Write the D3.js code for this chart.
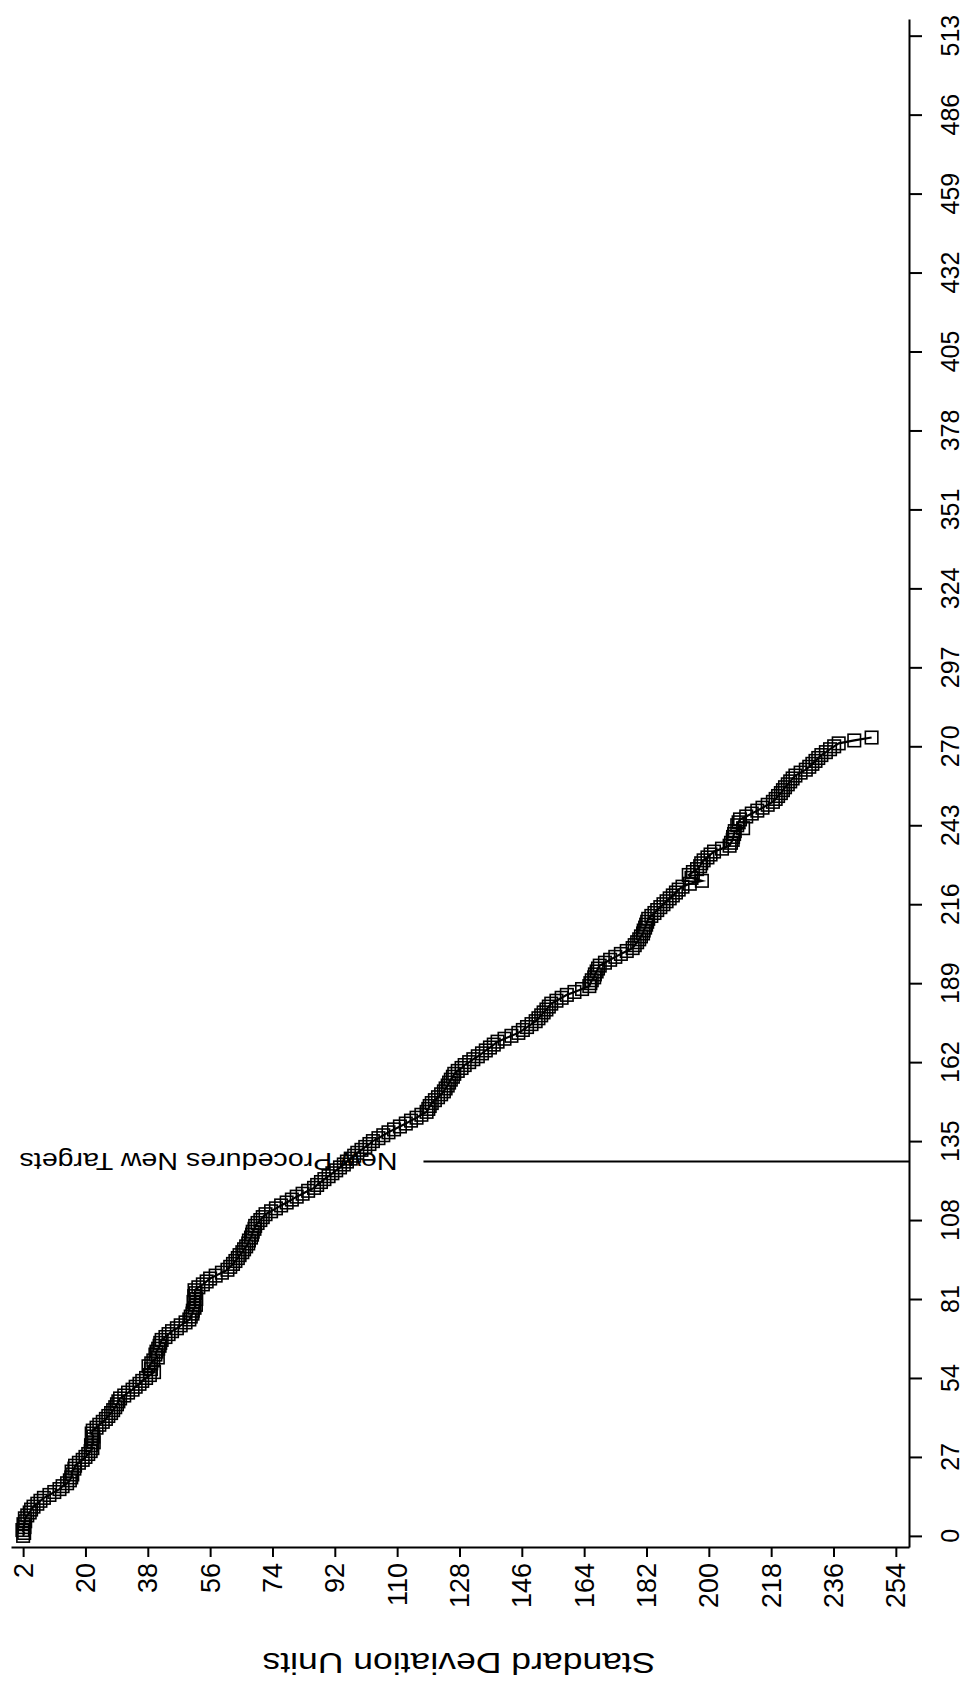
<!DOCTYPE html>
<html>
<head>
<meta charset="utf-8">
<script src="https://d3js.org/d3.v7.min.js"></script>
<style>
  body { margin: 0; background: #fff; }
  text { font-family: "Liberation Sans", Arial, sans-serif; fill: #000; }
</style>
</head>
<body>
<script>
  // cumulative standard deviation units, one value per observation (0..273)
  var sdValues = [
    2.0, 2.3, 1.8, 2.4, 2.1, 2.6, 2.5, 3.2, 3.9, 4.3,
    5.0, 6.1, 7.0, 8.0, 9.6, 11.0, 12.5, 13.4, 14.7, 15.5,
    15.9, 16.2, 16.0, 16.8, 17.0, 18.1, 19.2, 20.0, 20.8, 21.5,
    22.0, 21.6, 22.4, 21.9, 22.3, 21.8, 22.1, 23.2, 24.0, 25.0,
    25.9, 26.6, 27.4, 28.0, 28.6, 29.1, 29.5, 30.0, 31.2, 32.3,
    33.6, 34.5, 35.6, 36.4, 37.5, 38.6, 39.8, 38.9, 38.2, 39.0,
    39.6, 40.9, 40.2, 40.5, 41.0, 41.4, 41.6, 42.0, 43.1, 44.0,
    45.0, 46.4, 47.5, 48.9, 50.0, 50.4, 50.9, 51.0, 51.5, 51.9,
    51.2, 52.0, 51.4, 51.8, 51.5, 52.6, 53.9, 55.0, 56.0, 57.6,
    59.4, 61.0, 61.8, 62.6, 63.3, 64.0, 64.5, 65.3, 65.8, 66.4,
    67.0, 67.2, 67.8, 68.1, 68.3, 68.8, 69.0, 69.7, 70.5, 71.2,
    72.0, 73.6, 75.0, 76.5, 78.1, 79.6, 81.0, 82.7, 84.3, 86.0,
    86.9, 88.0, 89.0, 90.2, 91.3, 92.4, 93.5, 94.6, 95.5, 96.6,
    97.6, 98.5, 99.7, 100.8, 102.0, 103.0, 104.6, 106.0, 107.5, 109.1,
    110.8, 112.5, 114.0, 115.6, 117.0, 118.5, 119.0, 119.4, 120.0, 120.9,
    121.8, 122.7, 123.5, 124.0, 124.6, 125.0, 125.5, 126.1, 126.5, 127.5,
    128.6, 129.5, 130.8, 132.0, 133.3, 134.5, 135.6, 136.8, 137.9, 139.0,
    141.0, 143.0, 145.0, 146.3, 147.5, 148.8, 150.0, 150.8, 151.6, 152.3,
    153.1, 153.8, 154.5, 156.0, 157.5, 159.0, 161.2, 163.4, 165.5, 165.8,
    166.2, 166.9, 167.1, 167.6, 168.0, 168.5, 170.0, 171.5, 173.0, 174.6,
    176.3, 178.0, 178.6, 179.3, 179.9, 180.4, 181.0, 181.2, 181.6, 181.9,
    182.2, 182.5, 183.4, 184.3, 185.1, 186.0, 186.9, 187.8, 188.7, 189.6,
    190.5, 191.3, 192.4, 194.5, 198.0, 195.0, 194.2, 195.4, 196.6, 197.5,
    197.8, 198.5, 199.6, 200.5, 201.5, 203.8, 206.0, 206.4, 206.9, 207.0,
    207.3, 207.5, 209.9, 208.2, 208.6, 209.0, 210.8, 212.4, 214.0, 215.5,
    217.0, 218.5, 219.3, 220.0, 220.8, 221.4, 222.0, 222.8, 223.5, 224.2,
    225.0, 226.5, 228.0, 229.0, 229.9, 230.8, 231.6, 232.5, 233.8, 235.0,
    236.2, 237.5, 242.0, 247.0
  ];

  var sdTicks = [2, 20, 38, 56, 74, 92, 110, 128, 146, 164, 182, 200, 218, 236, 254];
  var obsTicks = [0, 27, 54, 81, 108, 135, 162, 189, 216, 243, 270, 297, 324, 351, 378, 405, 432, 459, 486, 513];

  var refIndex = 128;      // observation where procedures changed
  var refFromSd = 117.6;   // where the reference line starts
  var refLabel = "New Procedures New Targets";
  var axisTitle = "Standard Deviation Units";

  var W = 974, H = 1694;
  var svg = d3.select("body").append("svg")
    .attr("width", W)
    .attr("height", H);

  // standard deviation runs left to right, observation number bottom to top
  var x = d3.scaleLinear().domain([-1.5, 257.8]).range([11, 909]);
  var y = d3.scaleLinear().domain([-3.8, 518.7]).range([1547, 19]);

  var minorSd = d3.range(2, 255, 6);
  var minorObs = d3.range(0, 514, 9);

  // bottom axis (standard deviation units)
  var gx = svg.append("g").attr("transform", "translate(0," + y.range()[0] + ")");
  gx.call(d3.axisBottom(x).tickValues(minorSd).tickSize(5).tickSizeOuter(0).tickFormat(""));
  gx.call(d3.axisBottom(x).tickValues(sdTicks).tickSize(10).tickSizeOuter(0).tickFormat(""));
  gx.selectAll("path, line").attr("stroke", "#000").attr("stroke-width", 2);

  svg.append("g").selectAll("text")
    .data(sdTicks)
    .enter()
    .append("text")
    .attr("transform", function(d){ return "translate(" + x(d) + ",1563) rotate(-90)"; })
    .attr("text-anchor", "end")
    .attr("dy", "0.35em")
    .style("font-size", "27px")
    .text(function(d){ return d; });

  // right axis (observation number)
  var gy = svg.append("g").attr("transform", "translate(" + x.range()[1] + ",0)");
  gy.call(d3.axisRight(y).tickValues(minorObs).tickSize(6).tickSizeOuter(0).tickFormat(""));
  gy.call(d3.axisRight(y).tickValues(obsTicks).tickSize(13).tickSizeOuter(0).tickFormat(""));
  gy.selectAll("path, line").attr("stroke", "#000").attr("stroke-width", 2);

  svg.append("g").selectAll("text")
    .data(obsTicks)
    .enter()
    .append("text")
    .attr("transform", function(d){ return "translate(950," + y(d) + ") rotate(-90)"; })
    .attr("text-anchor", "middle")
    .attr("dy", "0.35em")
    .style("font-size", "25px")
    .text(function(d){ return d; });

  // axis title, upside down
  svg.append("text")
    .attr("transform", "translate(459,1663) rotate(180)")
    .attr("text-anchor", "middle")
    .attr("dy", "0.35em")
    .attr("textLength", 393)
    .attr("lengthAdjust", "spacingAndGlyphs")
    .style("font-size", "30px")
    .text(axisTitle);

  // reference line and its label
  svg.append("line")
    .attr("x1", x(refFromSd))
    .attr("x2", x.range()[1])
    .attr("y1", y(refIndex))
    .attr("y2", y(refIndex))
    .attr("stroke", "#000")
    .attr("stroke-width", 2);

  svg.append("text")
    .attr("transform", "translate(" + (x(refFromSd) - 26) + "," + y(refIndex) + ") rotate(180)")
    .attr("text-anchor", "start")
    .attr("dy", "0.35em")
    .attr("textLength", 378)
    .attr("lengthAdjust", "spacingAndGlyphs")
    .style("font-size", "24px")
    .text(refLabel);

  // the series: connecting line and square markers
  var line = d3.line()
    .x(function(d){ return x(d); })
    .y(function(d, i){ return y(i); });

  svg.append("path")
    .datum(sdValues)
    .attr("d", line)
    .attr("fill", "none")
    .attr("stroke", "#000")
    .attr("stroke-width", 2.2);

  var s = 12.5;
  svg.append("g").selectAll("rect")
    .data(sdValues)
    .enter()
    .append("rect")
    .attr("x", function(d){ return x(d) - s / 2; })
    .attr("y", function(d, i){ return y(i) - s / 2; })
    .attr("width", s)
    .attr("height", s)
    .attr("fill", "none")
    .attr("stroke", "#000")
    .attr("stroke-width", 1.6);
</script>
</body>
</html>
